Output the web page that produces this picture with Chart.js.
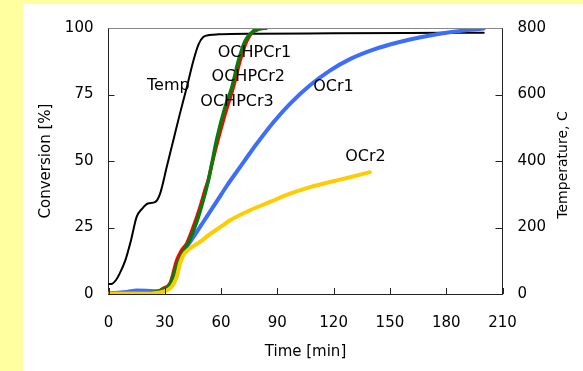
<!DOCTYPE html>
<html>
<head>
<meta charset="utf-8">
<script src="https://cdn.jsdelivr.net/npm/chart.js@4.4.0/dist/chart.umd.min.js"></script>
<style>
  html, body { margin: 0; padding: 0; background: #FFFFA0; width: 583px; height: 371px; overflow: hidden; }
  #wrap { position: absolute; left: 23px; top: 4px; width: 560px; height: 367px; background: #ffffff; }
  canvas { display: block; }
</style>
</head>
<body>
<div id="wrap"><canvas id="c" width="560" height="367"></canvas></div>
<script>
// ---- Data ----
const xTicks = [0, 30, 60, 90, 120, 150, 180, 210];
const convTicks = [0, 25, 50, 75, 100];
const tempTicks = [0, 200, 400, 600, 800];

// Temperature (right axis, C)
const tempTime = [0, 2, 4, 6, 9, 12, 15, 18, 21, 25, 27.5, 31, 34.5, 38, 41.7, 45.2, 48, 50.5, 54, 58.5, 80, 120, 160, 200];
const tempVals = [30, 31, 42, 62, 102, 162, 232, 257, 272, 277, 302, 381, 461, 541, 621, 701, 751, 773, 779, 781, 783, 784, 785, 786];

// OCHPCr1 (green)
const cr1Time = [0, 10, 20, 26, 29.2, 32.8, 36.4, 39.9, 43.4, 47, 50.5, 53.5, 57.7, 62.1, 65.7, 69.2, 72.8, 76.3, 80, 84.3];
const cr1Vals = [0.2, 0.3, 0.4, 0.9, 1.8, 3.5, 10.9, 16, 20.5, 27, 35.2, 43.5, 58.3, 70.2, 77.6, 87.6, 95.1, 98.2, 99.5, 100];

// OCHPCr2 (red)
const cr2Time = [0, 10, 20, 26, 29.2, 32.8, 36.4, 39, 41.7, 45.2, 48.8, 51.4, 53.2, 55, 58.5, 62.1, 66.5, 70.1, 73.7, 77.2, 80.7];
const cr2Vals = [0.2, 0.3, 0.4, 0.8, 2.1, 4, 12.7, 16.5, 19, 25.2, 32.7, 39, 43, 48.5, 58.3, 67.5, 77.6, 87.6, 95.1, 98.9, 100];

// OCr1 (blue)
const ocr1Time = [0, 5, 10, 15, 20, 25, 29, 32.8, 36.4, 39.9, 43.4, 47, 52.3, 57.7, 63, 70, 75.4, 79, 87.8, 96.7, 107.4, 118, 128.7, 139.3, 150, 160.7, 171.3, 182, 192.6, 200];
const ocr1Vals = [0.3, 0.5, 0.8, 1.3, 1.2, 1.0, 1.5, 3.4, 10.2, 15.8, 19.5, 23.3, 29, 34.8, 40.6, 47.6, 53, 56.5, 64.5, 71.5, 78.5, 84, 88.3, 91.4, 93.8, 95.7, 97.2, 98.4, 99.3, 99.8];

// OCr2 (yellow)
const ocr2Time = [0, 10, 20, 29.2, 33.7, 36.4, 38.1, 39.9, 43.4, 48.8, 54.1, 60.3, 64.8, 75.4, 86.1, 96.7, 107.4, 118, 128.7, 139.3];
const ocr2Vals = [0.2, 0.2, 0.2, 0.9, 2.7, 6.5, 11.5, 14.6, 17.1, 19.6, 22.5, 25.5, 27.7, 31.5, 34.6, 37.7, 40.2, 42.1, 43.9, 45.8];

// In-plot labels: text with (time, conversion) anchor
const labelTexts = ['Temp', 'OCHPCr1', 'OCHPCr2', 'OCHPCr3', 'OCr1', 'OCr2'];
const labelTimes = [31.9, 77.8, 74.5, 68.5, 119.9, 137];
const labelConv  = [78.3, 90.8, 81.8, 72.1, 77.9, 51.5];
const rightTitle = 'Temperature, C';

// ---- Helpers ----
const pts = (xs, ys) => xs.map((x, i) => ({ x: x, y: ys[i] }));
const FONT = 'DejaVu Sans';

const innerTicks = {
  id: 'innerTicks',
  afterDatasetsDraw(chart) {
    const ctx = chart.ctx;
    const a = chart.chartArea;
    const sx = chart.scales.x, sy = chart.scales.y, sy2 = chart.scales.y2;
    ctx.save();
    ctx.strokeStyle = '#222';
    ctx.lineWidth = 1;
    ctx.beginPath();
    xTicks.forEach(v => {
      const p = Math.round(sx.getPixelForValue(v)) + 0.5;
      ctx.moveTo(p, a.bottom); ctx.lineTo(p, a.bottom - 6);
    });
    convTicks.forEach(v => {
      const p = Math.round(sy.getPixelForValue(v)) + 0.5;
      ctx.moveTo(a.left, p); ctx.lineTo(a.left + 6, p);
    });
    tempTicks.forEach(v => {
      const p = Math.round(sy2.getPixelForValue(v)) + 0.5;
      ctx.moveTo(a.right, p); ctx.lineTo(a.right - 7, p);
    });
    ctx.stroke();
    // top border
    ctx.strokeStyle = '#888';
    ctx.beginPath();
    ctx.moveTo(a.left, Math.round(a.top) + 0.5);
    ctx.lineTo(a.right, Math.round(a.top) + 0.5);
    ctx.stroke();
    // labels
    ctx.fillStyle = '#000';
    ctx.font = '16px "' + FONT + '"';
    ctx.textAlign = 'center';
    ctx.textBaseline = 'middle';
    labelTexts.forEach((t, i) => {
      ctx.fillText(t, sx.getPixelForValue(labelTimes[i]), sy.getPixelForValue(labelConv[i]));
    });
    // right axis title, reading bottom-to-top
    ctx.font = '14px "' + FONT + '"';
    ctx.translate(sy2.right - 20, (a.top + a.bottom) / 2 + 4);
    ctx.rotate(-Math.PI / 2);
    ctx.fillText(rightTitle, 0, 0);
    ctx.restore();
  }
};

Chart.defaults.font.family = FONT;
Chart.defaults.color = '#000';

new Chart(document.getElementById('c'), {
  type: 'line',
  data: {
    datasets: [
      { label: 'OCr2', data: pts(ocr2Time, ocr2Vals), borderColor: '#FFCC00', borderWidth: 4, yAxisID: 'y', order: 1 },
      { label: 'OCHPCr1', data: pts(cr1Time, cr1Vals), borderColor: '#0A7A0A', borderWidth: 3.5, yAxisID: 'y', order: 2 },
      { label: 'OCHPCr2', data: pts(cr2Time, cr2Vals), borderColor: '#FF0000', borderWidth: 3.5, yAxisID: 'y', order: 3 },
      { label: 'OCr1', data: pts(ocr1Time, ocr1Vals), borderColor: '#3D6EF7', borderWidth: 4, yAxisID: 'y', order: 4 },
      { label: 'Temp', data: pts(tempTime, tempVals), borderColor: '#000000', borderWidth: 2, yAxisID: 'y2', order: 5 }
    ]
  },
  options: {
    responsive: false,
    animation: false,
    devicePixelRatio: 1,
    elements: { point: { radius: 0 }, line: { cubicInterpolationMode: 'monotone', borderCapStyle: 'round', borderJoinStyle: 'round' } },
    layout: { padding: { top: 23, right: 0, left: 0, bottom: 0 }, autoPadding: false },
    plugins: { legend: { display: false }, tooltip: { enabled: false } },
    scales: {
      x: {
        type: 'linear', position: 'bottom', min: 0, max: 210,
        afterBuildTicks: s => { s.ticks = xTicks.map(v => ({ value: v })); },
        afterFit: s => { s.height = 77; },
        grid: { display: false, drawTicks: false },
        border: { display: true, color: '#222', width: 1 },
        ticks: { padding: 20, font: { size: 15 }, color: '#000', maxRotation: 0 },
        title: { display: true, text: 'Time [min]', font: { size: 15 }, color: '#000', padding: { top: 0, bottom: 10 } }
      },
      y: {
        type: 'linear', position: 'left', min: 0, max: 100,
        afterBuildTicks: s => { s.ticks = convTicks.map(v => ({ value: v })); },
        afterFit: s => { s.width = 85.5; },
        grid: { display: false, drawTicks: false },
        border: { display: true, color: '#222', width: 1 },
        ticks: { padding: 15, font: { size: 15 }, color: '#000' },
        title: { display: true, text: 'Conversion [%]', font: { size: 15 }, color: '#000', padding: { top: 14, bottom: 0 } }
      },
      y2: {
        type: 'linear', position: 'right', min: 0, max: 800,
        afterBuildTicks: s => { s.ticks = tempTicks.map(v => ({ value: v })); },
        afterFit: s => { s.width = 80.5; },
        grid: { display: false, drawTicks: false },
        border: { display: true, color: '#222', width: 1 },
        ticks: { padding: 15, font: { size: 15 }, color: '#000' },
        title: { display: false }
      }
    }
  },
  plugins: [innerTicks]
});
</script>
</body>
</html>
